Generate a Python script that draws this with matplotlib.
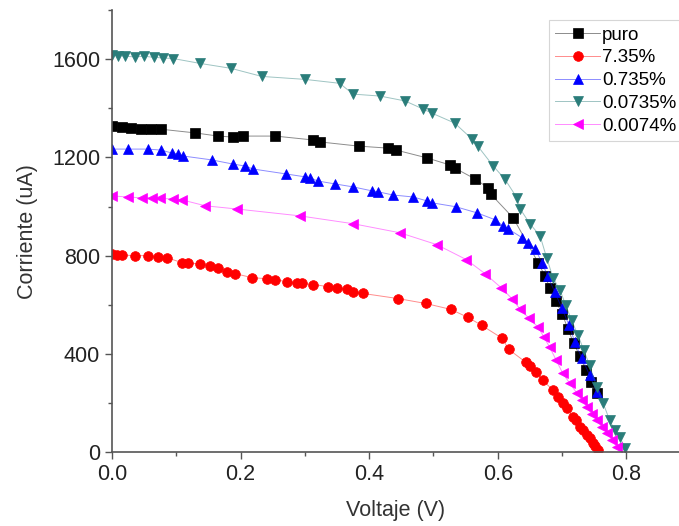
import matplotlib
matplotlib.use("Agg")
from matplotlib import pyplot as plt
from matplotlib.ticker import MultipleLocator

# curvas I-V
v_puro = [0.0, 0.015, 0.03, 0.045, 0.06, 0.076, 0.129, 0.165, 0.188, 0.204, 0.254,
          0.313, 0.324, 0.384, 0.429, 0.442, 0.49, 0.526, 0.533, 0.565, 0.585, 0.589,
          0.624, 0.663, 0.673, 0.681, 0.690, 0.700, 0.709, 0.718, 0.728, 0.737,
          0.745, 0.754]
i_puro = [1330, 1325, 1318, 1315, 1315, 1315, 1300, 1287, 1283, 1287, 1287,
          1271, 1263, 1246, 1238, 1230, 1198, 1169, 1157, 1112, 1076, 1051,
          954, 771, 719, 670, 617, 564, 503, 443, 390, 333,
          284, 240]

v_735 = [0.0, 0.008, 0.016, 0.036, 0.056, 0.072, 0.085, 0.109, 0.118, 0.137, 0.152,
         0.165, 0.179, 0.191, 0.218, 0.241, 0.254, 0.272, 0.288, 0.295, 0.313, 0.336,
         0.35, 0.365, 0.375, 0.39, 0.445, 0.488, 0.527, 0.554, 0.575, 0.607, 0.617,
         0.644, 0.65, 0.659, 0.67, 0.686, 0.694, 0.701, 0.707, 0.717, 0.722, 0.728,
         0.733, 0.739, 0.743, 0.748, 0.751, 0.756]
i_735 = [805, 804, 802, 800, 800, 796, 792, 771, 769, 767, 759,
         751, 735, 727, 710, 706, 702, 694, 690, 688, 682, 674,
         670, 662, 650, 646, 625, 605, 581, 548, 516, 463, 418,
         365, 349, 325, 292, 252, 223, 199, 179, 142, 130, 102,
         89, 69, 57, 37, 24, 8]

v_0735 = [0.0, 0.025, 0.056, 0.076, 0.093, 0.103, 0.11, 0.155, 0.188, 0.207, 0.219,
          0.27, 0.30, 0.308, 0.32, 0.347, 0.375, 0.404, 0.414, 0.437, 0.468, 0.49,
          0.498, 0.535, 0.568, 0.596, 0.608, 0.616, 0.638, 0.647, 0.658, 0.669,
          0.678, 0.689, 0.700, 0.711, 0.720, 0.731, 0.743, 0.754]
i_0735 = [1234, 1234, 1234, 1230, 1218, 1214, 1206, 1190, 1173, 1165, 1153,
          1133, 1121, 1117, 1104, 1092, 1080, 1064, 1060, 1047, 1039, 1023,
          1015, 999, 974, 946, 922, 909, 873, 853, 828, 771,
          715, 650, 585, 516, 447, 382, 313, 244]

v_00735 = [0.0, 0.01, 0.02, 0.035, 0.05, 0.065, 0.08, 0.095, 0.137, 0.185, 0.233,
           0.30, 0.354, 0.375, 0.417, 0.456, 0.484, 0.498, 0.533, 0.56, 0.569,
           0.593, 0.611, 0.63, 0.635, 0.65, 0.666, 0.676, 0.686, 0.697, 0.706,
           0.715, 0.725, 0.734, 0.743, 0.754, 0.764, 0.774, 0.782, 0.79, 0.798]
i_00735 = [1618, 1615, 1612, 1610, 1612, 1608, 1605, 1603, 1583, 1563, 1530,
           1518, 1502, 1458, 1450, 1430, 1397, 1380, 1340, 1275, 1246,
           1165, 1112, 1035, 990, 930, 880, 792, 710, 658, 597,
           536, 475, 414, 353, 264, 199, 130, 89, 61, 16]

v_0074 = [0.0, 0.025, 0.047, 0.062, 0.075, 0.095, 0.109, 0.145, 0.194, 0.292, 0.375,
          0.448, 0.505, 0.551, 0.58, 0.605, 0.622, 0.635, 0.649, 0.663, 0.672,
          0.681, 0.691, 0.701, 0.712, 0.723, 0.731, 0.739, 0.746, 0.754, 0.762,
          0.77, 0.778, 0.785]
i_0074 = [1043, 1039, 1035, 1035, 1033, 1031, 1027, 1003, 990, 962, 930,
          893, 845, 784, 727, 670, 625, 581, 544, 508, 467,
          426, 374, 321, 280, 240, 211, 183, 154, 130, 102,
          77, 49, 20]

labels = ["puro", "7.35%", "0.735%", "0.0735%", "0.0074%"]

plt.rcParams['font.family'] = ['Liberation Sans', 'DejaVu Sans']

fig = plt.figure(figsize=(6.79, 5.26), dpi=100)
ax = fig.add_axes([0.165, 0.1407, 0.835, 0.840])

series = [
    (v_puro, i_puro, "s", "#000000"),
    (v_735, i_735, "o", "#ff0000"),
    (v_0735, i_0735, "^", "#0000ff"),
    (v_00735, i_00735, "v", "#2a7d7a"),
    (v_0074, i_0074, "<", "#ff00ff"),
]
handles = []
for v, i, mk, col in series:
    # linea tenue y marcadores opacos
    ln, = ax.plot(v, i, color=col, lw=0.7, alpha=0.45)
    mrk, = ax.plot(v, i, ls="none", marker=mk, markersize=7, color=col,
                   markeredgecolor=col, markeredgewidth=0.5)
    handles.append((ln, mrk))

ax.set_xlim(0, 0.882)
ax.set_ylim(0, 1800)
ax.xaxis.set_minor_locator(MultipleLocator(0.1))
ax.yaxis.set_minor_locator(MultipleLocator(200))
ax.set_yticks([0, 400, 800, 1200, 1600])
ax.set_xticks([0.0, 0.2, 0.4, 0.6, 0.8])
ax.set_xticklabels(["0.0", "0.2", "0.4", "0.6", "0.8"])

for s in ["top", "right"]:
    ax.spines[s].set_visible(False)
for s in ["left", "bottom"]:
    ax.spines[s].set_color("#555555")
    ax.spines[s].set_linewidth(1.2)

ax.tick_params(which="major", direction="out", length=5, width=1, colors="#555555",
               labelsize=15.5, labelcolor="#222222")
ax.tick_params(which="minor", direction="out", length=3, width=1, colors="#555555")

ax.set_xlabel("Voltaje (V)", fontsize=15.5, color="#333333", labelpad=11)
ax.set_ylabel("Corriente (uA)", fontsize=15.5, color="#333333", labelpad=10)

leg = ax.legend(handles, labels, loc="upper left", bbox_to_anchor=(0.808, 0.962),
                bbox_transform=fig.transFigure, fontsize=13.5, frameon=True,
                fancybox=False, edgecolor="#cccccc", handlelength=2.4,
                handletextpad=0.1, labelspacing=0.3, borderpad=0.35,
                borderaxespad=0)
leg.get_frame().set_linewidth(0.8)

fig.savefig("out.png", dpi=100)
